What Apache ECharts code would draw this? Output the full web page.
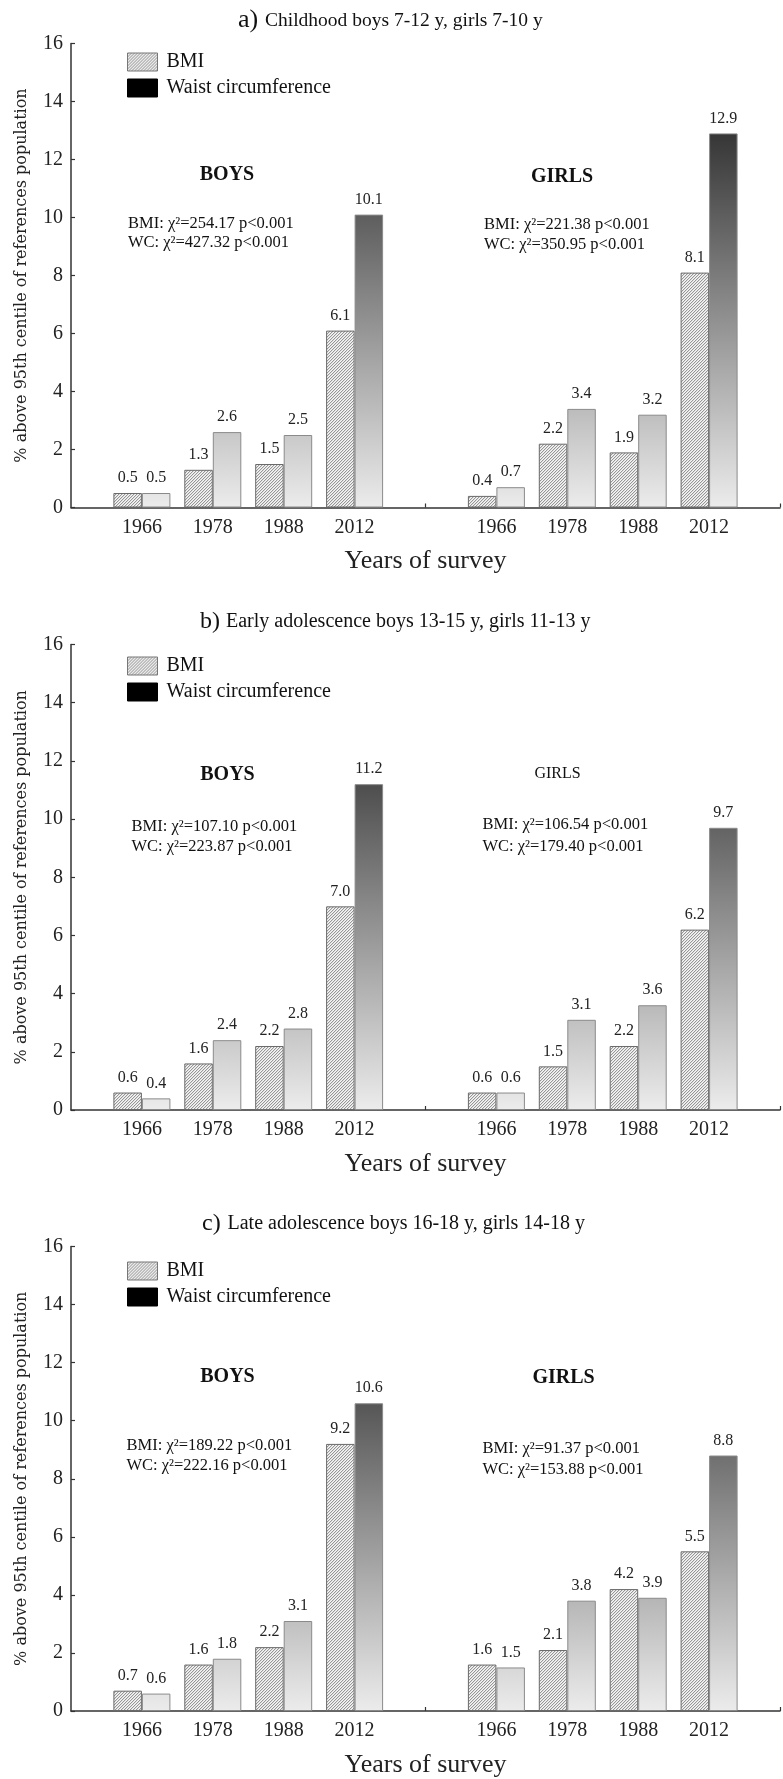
<!DOCTYPE html>
<html>
<head>
<meta charset="utf-8">
<script src="https://cdn.jsdelivr.net/npm/echarts@6/dist/echarts.min.js"></script>
<style>
html,body{margin:0;padding:0;background:#fff;}
#chart{width:783px;height:1779px;}
</style>
</head>
<body>
<div id="chart"></div>
<script>
// ---------- data ----------
const years = ['1966', '1978', '1988', '2012'];
const yTicks = { min: 0, max: 16, interval: 2 };

const aBoysBMI  = [0.5, 1.3, 1.5, 6.1];
const aBoysWC   = [0.5, 2.6, 2.5, 10.1];
const aGirlsBMI = [0.4, 2.2, 1.9, 8.1];
const aGirlsWC  = [0.7, 3.4, 3.2, 12.9];

const bBoysBMI  = [0.6, 1.6, 2.2, 7.0];
const bBoysWC   = [0.4, 2.4, 2.8, 11.2];
const bGirlsBMI = [0.6, 1.5, 2.2, 6.2];
const bGirlsWC  = [0.6, 3.1, 3.6, 9.7];

const cBoysBMI  = [0.7, 1.6, 2.2, 9.2];
const cBoysWC   = [0.6, 1.8, 3.1, 10.6];
const cGirlsBMI = [1.6, 2.1, 4.2, 5.5];
const cGirlsWC  = [1.5, 3.8, 3.9, 8.8];

const panelTitles = [
  ['a)', 'Childhood boys 7-12 y, girls 7-10 y'],
  ['b)', 'Early adolescence boys 13-15 y, girls 11-13 y'],
  ['c)', 'Late adolescence boys 16-18 y, girls 14-18 y']
];
const chiBoys = [
  ['BMI: χ²=254.17 p<0.001', 'WC: χ²=427.32 p<0.001'],
  ['BMI: χ²=107.10 p<0.001', 'WC: χ²=223.87 p<0.001'],
  ['BMI: χ²=189.22 p<0.001', 'WC: χ²=222.16 p<0.001']
];
const chiGirls = [
  ['BMI: χ²=221.38 p<0.001', 'WC: χ²=350.95 p<0.001'],
  ['BMI: χ²=106.54 p<0.001', 'WC: χ²=179.40 p<0.001'],
  ['BMI: χ²=91.37 p<0.001', 'WC: χ²=153.88 p<0.001']
];
const seriesNames = ['BMI', 'Waist circumference'];
const yName = '% above 95th centile of references population';
const xName = 'Years of survey';

// ---------- build ----------
function row(boys, girls) { return [null, ...boys, null, ...girls, null]; }
const cats = ['', ...years, '', ...years, ''];
const panels = [
  { bmi: row(aBoysBMI, aGirlsBMI), wc: row(aBoysWC, aGirlsWC) },
  { bmi: row(bBoysBMI, bGirlsBMI), wc: row(bBoysWC, bGirlsWC) },
  { bmi: row(cBoysBMI, cGirlsBMI), wc: row(cBoysWC, cGirlsWC) }
];

// layout
const L = 71, R = 2;
const grids = [
  { top: 43.5, h: 464 },
  { top: 644.5, h: 465.5 },
  { top: 1246.5, h: 464.5 }
];
const legendTops = [52, 656, 1261];
const serif = '"Liberation Serif", "Times New Roman", serif';

// hatch pattern (a fresh canvas for every use)
function makeHatch() {
  const s = 3;
  const c = document.createElement('canvas');
  c.width = s; c.height = s;
  const ctx = c.getContext('2d');
  const img = ctx.createImageData(s, s);
  for (let y = 0; y < s; y++) {
    for (let x = 0; x < s; x++) {
      const k = (x + y) % s;
      let v = 246;
      if (k === 0) v = 150;
      else if (k === 1) v = 222;
      const i = (y * s + x) * 4;
      img.data[i] = v; img.data[i + 1] = v; img.data[i + 2] = v; img.data[i + 3] = 255;
    }
  }
  ctx.putImageData(img, 0, 0);
  return { image: c, repeat: 'repeat' };
}

const option = {
  animation: false,
  backgroundColor: '#fff',
  grid: [], xAxis: [], yAxis: [], series: [], legend: [], graphic: []
};

grids.forEach((g, i) => {
  option.grid.push({ left: L, right: R, top: g.top, height: g.h, containLabel: false });
  option.xAxis.push({
    type: 'category', gridIndex: i, data: cats, boundaryGap: false,
    axisLine: { show: true, lineStyle: { color: '#333', width: 1.5 } },
    axisTick: { show: true, inside: true, length: 4, interval: (idx) => idx === 5 || idx === 10,
      lineStyle: { color: '#333', width: 1.2 } },
    axisLabel: { interval: 0, fontFamily: serif, fontSize: 20, color: '#222', margin: 10 },
    splitLine: { show: false },
    name: xName, nameLocation: 'middle', nameGap: 41,
    nameTextStyle: { fontFamily: serif, fontSize: 26, color: '#222' }
  });
  option.yAxis.push({
    type: 'value', gridIndex: i, min: yTicks.min, max: yTicks.max, interval: yTicks.interval,
    axisLine: { show: true, lineStyle: { color: '#333', width: 1.5 } },
    axisTick: { show: true, inside: true, length: 4, lineStyle: { color: '#333', width: 1.2 } },
    axisLabel: { fontFamily: serif, fontSize: 20, color: '#222', margin: 8 },
    splitLine: { show: false },
    name: yName, nameLocation: 'middle', nameGap: 41, nameRotate: 90,
    nameTextStyle: { fontFamily: '"DejaVu Serif", serif', fontSize: 16, color: '#222' }
  });
  const lbl = {
    show: true, position: 'top', distance: 7,
    fontFamily: serif, fontSize: 16, color: '#222',
    formatter: (p) => (p.value == null ? '' : Number(p.value).toFixed(1))
  };
  const grad = {
    type: 'linear', global: true, x: 0, y: g.top, x2: 0, y2: g.top + g.h,
    colorStops: [{ offset: 0, color: '#0a0a0a' }, { offset: 1, color: '#ececec' }]
  };
  option.series.push({
    type: 'bar', name: seriesNames[0], xAxisIndex: i, yAxisIndex: i,
    data: panels[i].bmi, barWidth: 28.5, barGap: '0%',
    itemStyle: { color: makeHatch(), borderColor: '#6a6a6a', borderWidth: 1 },
    label: lbl
  });
  option.series.push({
    type: 'bar', name: seriesNames[1], xAxisIndex: i, yAxisIndex: i,
    data: panels[i].wc, barWidth: 28.5, barGap: '0%',
    itemStyle: { color: grad, borderColor: '#8a8a8a', borderWidth: 1 },
    label: lbl
  });
  option.legend.push({
    orient: 'vertical', left: 127, top: legendTops[i], padding: 0,
    itemWidth: 30, itemHeight: 18, itemGap: 6, icon: 'rect', selectedMode: false,
    textStyle: { fontFamily: serif, fontSize: 20, color: '#111', lineHeight: 18, padding: [0, 0, 0, 4] },
    data: [
      { name: seriesNames[0], itemStyle: { color: makeHatch(), borderColor: '#777', borderWidth: 1 } },
      { name: seriesNames[1], itemStyle: { color: '#000', borderColor: '#000', borderWidth: 1 } }
    ]
  });
});

// ---------- annotations ----------
function txt(x, y, text, size, opts) {
  opts = opts || {};
  return {
    type: 'text', silent: true,
    style: {
      x: x, y: y, text: text,
      fontFamily: opts.family || serif, fontSize: size, fontWeight: opts.weight || 'normal',
      fill: '#111',
      align: opts.align || 'left', textAlign: opts.align || 'left',
      verticalAlign: 'middle', textVerticalAlign: 'middle'
    }
  };
}
const titlePos = [
  { x1: 238, x2: 265, y: 20, s1: 26, s2: 19.5 },
  { x1: 200, x2: 226, y: 621.7, s1: 24, s2: 20 },
  { x1: 202, x2: 227.5, y: 1223.3, s1: 24, s2: 20 }
];
titlePos.forEach((t, i) => {
  option.graphic.push(txt(t.x1, t.y, panelTitles[i][0], t.s1));
  option.graphic.push(txt(t.x2, t.y + 0.5, panelTitles[i][1], t.s2));
});
const ann = [
  { boys: [227, 175], girls: [562, 177], girlsBold: true, cb: [128, 224, 243], cg: [484, 225, 245] },
  { boys: [227.5, 775], girls: [557.5, 774], girlsBold: false, cb: [131.5, 826.7, 847], cg: [482.5, 825, 846.7] },
  { boys: [227.5, 1376.7], girls: [563.5, 1378], girlsBold: true, cb: [126.5, 1446, 1466], cg: [482.5, 1448.3, 1470] }
];
ann.forEach((a, i) => {
  option.graphic.push(txt(a.boys[0], a.boys[1], 'BOYS', 20, { weight: 'bold', align: 'center' }));
  option.graphic.push(a.girlsBold
    ? txt(a.girls[0], a.girls[1], 'GIRLS', 20, { weight: 'bold', align: 'center' })
    : txt(a.girls[0], a.girls[1], 'GIRLS', 16, { align: 'center' }));
  option.graphic.push(txt(a.cb[0], a.cb[1], chiBoys[i][0], 16.5));
  option.graphic.push(txt(a.cb[0], a.cb[2], chiBoys[i][1], 16.5));
  option.graphic.push(txt(a.cg[0], a.cg[1], chiGirls[i][0], 16.5));
  option.graphic.push(txt(a.cg[0], a.cg[2], chiGirls[i][1], 16.5));
});

const chart = echarts.init(document.getElementById('chart'), null, { renderer: 'canvas' });
chart.setOption(option);
</script>
</body>
</html>
